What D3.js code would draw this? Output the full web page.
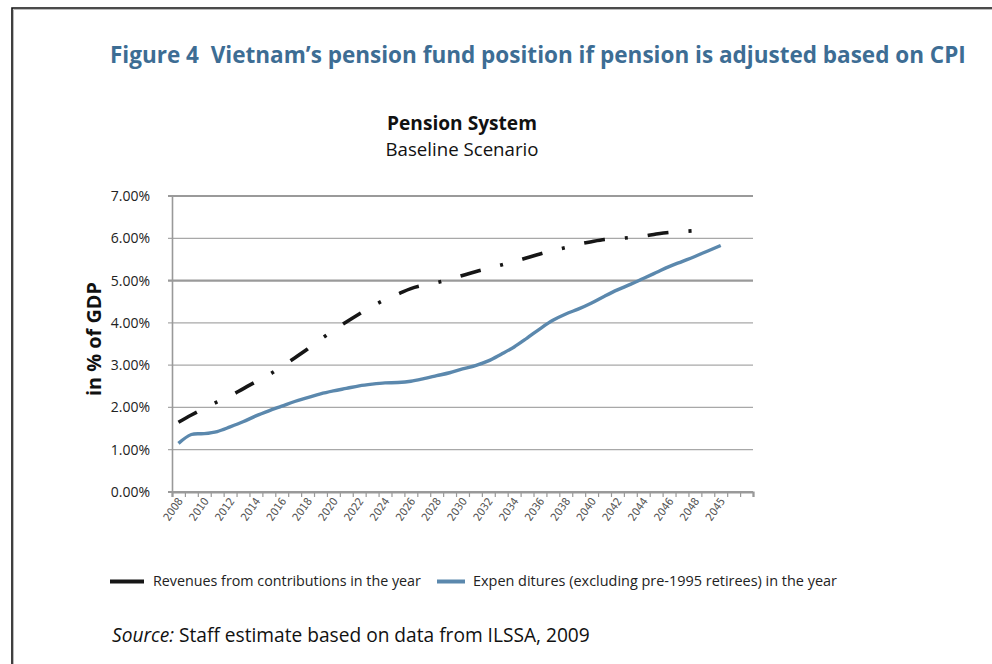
<!DOCTYPE html>
<html>
<head>
<meta charset="utf-8">
<script src="https://d3js.org/d3.v7.min.js"></script>
<style>
  html, body { margin: 0; padding: 0; background: #fff; }
  svg { display: block; }
</style>
</head>
<body>
<div id="chart"></div>
<script>
// values, in % of GDP
var tickLabels = ["2008", "2010", "2012", "2014", "2016", "2018", "2020", "2022", "2024", "2026", "2028",
  "2030", "2032", "2034", "2036", "2038", "2040", "2042", "2044", "2046", "2048", "2045"];
var nCategories = 45;

var revenues = [1.65, 1.82, 1.98, 2.13, 2.27, 2.44, 2.61, 2.77, 2.97, 3.17, 3.38, 3.61, 3.82, 4.02, 4.21,
  4.39, 4.55, 4.68, 4.81, 4.89, 4.95, 5.03, 5.12, 5.21, 5.29, 5.37, 5.45, 5.54, 5.63, 5.71, 5.78, 5.86,
  5.92, 5.97, 5.99, 6.02, 6.05, 6.10, 6.14, 6.16, 6.18];

var expenditures = [1.15, 1.36, 1.38, 1.43, 1.54, 1.66, 1.80, 1.92, 2.03, 2.14, 2.23, 2.32, 2.39, 2.45,
  2.51, 2.55, 2.58, 2.59, 2.62, 2.68, 2.75, 2.82, 2.91, 2.99, 3.10, 3.26, 3.43, 3.64, 3.86, 4.06, 4.21,
  4.33, 4.47, 4.63, 4.78, 4.91, 5.05, 5.19, 5.33, 5.45, 5.57, 5.70, 5.83];

var yTicks = [0, 1, 2, 3, 4, 5, 6, 7];
var heavyGrid = [0, 5, 7];

var seriesNames = ["Revenues from contributions in the year",
  "Expen ditures (excluding pre-1995 retirees) in the year"];

var svgWidth = 992;
var svgHeight = 664;
var plot = { left: 172, right: 753, top: 196, bottom: 492 };
var font = "'Open Sans', 'Noto Sans', sans-serif";

var svg = d3.select("#chart")
  .append("svg")
  .attr("width", svgWidth)
  .attr("height", svgHeight);

svg.append("rect").attr("width", svgWidth).attr("height", svgHeight).attr("fill", "#fff");

// page frame
svg.append("path")
  .attr("d", "M992,9.5H13.5V664")
  .attr("fill", "none").attr("stroke", "#bbb").attr("stroke-width", 1);
svg.append("path")
  .attr("d", "M992,8H12V664")
  .attr("fill", "none").attr("stroke", "#111").attr("stroke-width", 1.6);

// shrink a text until it fits a width
function fit(sel, w) {
  var node = sel.node();
  var fs = parseFloat(sel.attr("font-size"));
  var len = node.getComputedTextLength();
  sel.attr("font-size", (fs * w / len).toFixed(2));
}

svg.append("text")
  .attr("x", 110).attr("y", 63)
  .attr("font-family", font).attr("font-size", 21).attr("font-weight", "bold")
  .attr("fill", "#3d6d94")
  .attr("xml:space", "preserve")
  .text("Figure 4  Vietnam\u2019s pension fund position if pension is adjusted based on CPI")
  .call(fit, 856);

svg.append("text")
  .attr("x", 462).attr("y", 130)
  .attr("text-anchor", "middle")
  .attr("font-family", font).attr("font-size", 17).attr("font-weight", "bold")
  .attr("fill", "#111")
  .text("Pension System")
  .call(fit, 150);

svg.append("text")
  .attr("x", 462).attr("y", 156)
  .attr("text-anchor", "middle")
  .attr("font-family", font).attr("font-size", 16)
  .attr("fill", "#111")
  .text("Baseline Scenario")
  .call(fit, 153);

// scales
var x = d3.scaleBand()
  .domain(d3.range(nCategories))
  .range([plot.left, plot.right]);
var cx = function(i) { return x(i) + x.bandwidth() / 2; };

var y = d3.scaleLinear()
  .domain([0, 7])
  .range([plot.bottom, plot.top]);

// gridlines
svg.append("g")
  .selectAll("line")
  .data(yTicks)
  .enter()
  .append("line")
  .attr("x1", plot.left - 4)
  .attr("x2", plot.right)
  .attr("y1", d => y(d))
  .attr("y2", d => y(d))
  .attr("stroke", d => heavyGrid.indexOf(d) >= 0 ? "#9a9a9a" : "#a8a8a8")
  .attr("stroke-width", d => heavyGrid.indexOf(d) >= 0 ? 2.2 : 1.2);

// y axis
var leftAxis = d3.axisLeft(y)
  .tickValues(yTicks)
  .tickFormat(d => d.toFixed(2) + "%")
  .tickSize(0)
  .tickPadding(22);

var yAxis = svg.append("g")
  .attr("transform", `translate(${plot.left}, 0)`)
  .call(leftAxis);
yAxis.select(".domain").attr("stroke", "#999").attr("stroke-width", 1.6);
yAxis.attr("font-size", null).attr("font-family", null);
yAxis.selectAll("text")
  .style("font-family", font).style("font-size", "14px").attr("fill", "#222");

// x axis, ticks between categories
var xEdges = d3.scaleLinear().domain([0, nCategories]).range([plot.left, plot.right]);
var bottomAxis = d3.axisBottom(xEdges)
  .tickValues(d3.range(nCategories + 1))
  .tickFormat("")
  .tickSizeOuter(0)
  .tickSize(5);
var xAxis = svg.append("g")
  .attr("transform", `translate(0, ${plot.bottom})`)
  .call(bottomAxis);
xAxis.select(".domain").attr("stroke", "#999").attr("stroke-width", 2.2);
xAxis.selectAll(".tick line").attr("stroke", "#999").attr("stroke-width", 1.2);

svg.append("g")
  .selectAll("text")
  .data(tickLabels)
  .enter()
  .append("text")
  .attr("transform", (d, k) => `translate(${cx(k * 2) + 5}, ${plot.bottom + 9}) rotate(-55)`)
  .attr("text-anchor", "end")
  .attr("font-family", "'Liberation Sans Narrow', 'DejaVu Sans Condensed', " + font)
  .attr("font-size", 11)
  .attr("fill", "#555")
  .text(d => d);

// lines
var line = d3.line()
  .x((d, i) => cx(i))
  .y(d => y(d))
  .curve(d3.curveCatmullRom.alpha(0.5));

svg.append("path")
  .datum(expenditures)
  .attr("d", line)
  .attr("fill", "none")
  .attr("stroke", "#5b88ad")
  .attr("stroke-width", 3.4);

svg.append("path")
  .datum(revenues)
  .attr("d", line)
  .attr("fill", "none")
  .attr("stroke", "#161616")
  .attr("stroke-width", 3.6)
  .attr("stroke-dasharray", "21,20,3,20");

// y axis title
svg.append("text")
  .attr("transform", "translate(101, 339) rotate(-90)")
  .attr("text-anchor", "middle")
  .attr("font-family", font).attr("font-size", 17).attr("font-weight", "bold")
  .attr("fill", "#111")
  .text("in % of GDP")
  .call(fit, 114);

// legend
var legend = svg.append("g");
legend.append("line")
  .attr("x1", 110).attr("x2", 144).attr("y1", 581.5).attr("y2", 581.5)
  .attr("stroke", "#161616").attr("stroke-width", 4);
legend.append("text")
  .attr("x", 153).attr("y", 586)
  .attr("font-family", font).attr("font-size", 13).attr("fill", "#222")
  .text(seriesNames[0])
  .call(fit, 268);
legend.append("line")
  .attr("x1", 437).attr("x2", 465).attr("y1", 581.5).attr("y2", 581.5)
  .attr("stroke", "#5b88ad").attr("stroke-width", 4);
legend.append("text")
  .attr("x", 473).attr("y", 586)
  .attr("font-family", font).attr("font-size", 13).attr("fill", "#222")
  .text(seriesNames[1])
  .call(fit, 364);

// source note
var src = svg.append("text")
  .attr("x", 112).attr("y", 642)
  .attr("font-family", font).attr("font-size", 17).attr("fill", "#111");
src.append("tspan").attr("font-style", "italic").text("Source:");
src.append("tspan").text(" Staff estimate based on data from ILSSA, 2009");
src.call(fit, 478);
</script>
</body>
</html>
